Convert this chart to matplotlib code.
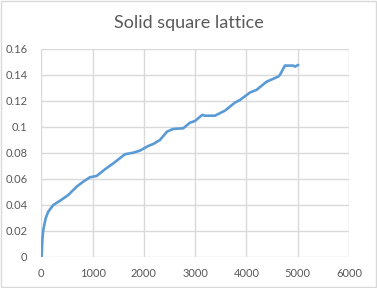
import matplotlib
matplotlib.use('Agg')
import matplotlib.pyplot as plt
from matplotlib.patches import Rectangle

# values
steps = [0, 8, 20, 39, 86, 136, 234, 365, 526, 690, 819, 949, 1080, 1242,
         1404, 1632, 1793, 1924, 2086, 2183, 2314, 2450, 2573, 2768, 2898,
         2996, 3138, 3190, 3386, 3581, 3776, 3873, 4068, 4198, 4393, 4620,
         4653, 4750, 4913, 4946, 5010]
density = [0, 0.0, 0.0129, 0.0206, 0.0296, 0.0347, 0.0398, 0.0431, 0.0475,
           0.054, 0.0578, 0.0612, 0.0622, 0.0673, 0.0719, 0.0789, 0.0801,
           0.0817, 0.0853, 0.0868, 0.0899, 0.0963, 0.0984, 0.0989, 0.1032,
           0.1045, 0.1092, 0.1086, 0.1086, 0.1125, 0.1187, 0.1207, 0.1264,
           0.1285, 0.1348, 0.1387, 0.140, 0.1472, 0.1472, 0.1464, 0.1477]
x_ticks = [0, 1000, 2000, 3000, 4000, 5000, 6000]
y_ticks = [0, 0.02, 0.04, 0.06, 0.08, 0.1, 0.12, 0.14, 0.16]
y_labels = ['0', '0.02', '0.04', '0.06', '0.08', '0.1', '0.12', '0.14', '0.16']
title = 'Solid square lattice'

plt.rcParams['font.family'] = ['Lato', 'DejaVu Sans']

fig = plt.figure(figsize=(3.77, 2.88), dpi=100)
ax = fig.add_axes([0.1095, 0.1087, 0.8163, 0.7213])

ax.plot(steps, density, color='#5b9bd5', linewidth=1.9, solid_capstyle='round')

ax.set_xlim(0, 6000)
ax.set_ylim(0, 0.16)
ax.set_xticks(x_ticks)
ax.set_xticklabels([str(t) for t in x_ticks])
ax.set_yticks(y_ticks)
ax.set_yticklabels(y_labels)
ax.grid(True, color='#d9d9d9', linewidth=1.0)
ax.set_axisbelow(True)
for s in ax.spines.values():
    s.set_visible(False)
ax.tick_params(length=0, labelsize=8, labelcolor='#595959', pad=8)
ax.tick_params(axis='y', pad=10)

fig.text(0.5, 0.92, title, ha='center', va='center', fontsize=13, color='#595959')

fig.patches.append(Rectangle((0.003, 0.003), 0.994, 0.994, transform=fig.transFigure,
                             fill=False, edgecolor='#d9d9d9', linewidth=1.0))

fig.savefig('out.png', dpi=100, facecolor='white')
